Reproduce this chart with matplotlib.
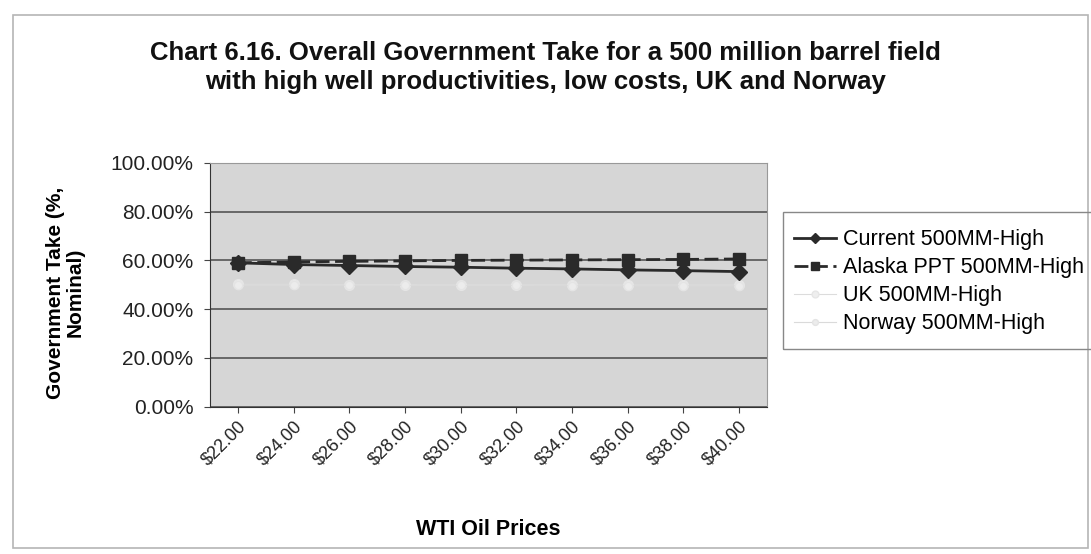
import matplotlib.pyplot as plt
from matplotlib.patches import Rectangle
from matplotlib.ticker import FuncFormatter

plt.rcParams['font.family'] = ['Liberation Sans', 'DejaVu Sans']

# Precios WTI y government take (%) por escenario
precios = ['$22.00', '$24.00', '$26.00', '$28.00', '$30.00',
           '$32.00', '$34.00', '$36.00', '$38.00', '$40.00']
current = [59.0, 58.3, 57.9, 57.5, 57.2, 56.8, 56.5, 56.1, 55.8, 55.4]
alaska_ppt = [59.0, 59.4, 59.6, 59.8, 60.0, 60.1, 60.2, 60.3, 60.4, 60.6]
uk = [50.2, 50.2, 50.1, 50.1, 50.0, 50.0, 50.0, 49.9, 49.9, 49.9]
norway = [49.8, 49.8, 49.8, 49.7, 49.7, 49.7, 49.6, 49.6, 49.6, 49.6]

W, H = 1091, 554
fig = plt.figure(figsize=(W / 100, H / 100), dpi=100)
ax = fig.add_axes([0.1925, 0.2662, 0.5105, 0.4396])
ax.set_facecolor('#d6d6d6')

# Marco exterior del grafico y caja de la leyenda
fig.patches.append(Rectangle((13 / W, 1 - 548 / H), 1075 / W, 533 / H,
                             transform=fig.transFigure, fill=False,
                             edgecolor='#b5b5b5', linewidth=1.2))
fig.patches.append(Rectangle((783 / W, 1 - 349 / H), 320 / W, 137 / H,
                             transform=fig.transFigure, fill=False,
                             edgecolor='#888888', linewidth=1))

x = list(range(len(precios)))
ax.plot(x, uk, color='#dcdcdc', marker='o', markersize=7, markerfacecolor='#eeeeee',
        markeredgecolor='#e6e6e6', linewidth=0.8, label='UK 500MM-High', zorder=2)
ax.plot(x, norway, color='#dadada', marker='o', markersize=6, markerfacecolor='#ececec',
        markeredgecolor='#e4e4e4', linewidth=0.8, label='Norway 500MM-High', zorder=2)
ax.plot(x, current, color='#2a2a2a', marker='D', markersize=8, linewidth=2,
        label='Current 500MM-High', zorder=4)
ax.plot(x, alaska_ppt, color='#2a2a2a', marker='s', markersize=8, linewidth=2,
        linestyle=(0, (5, 2)), label='Alaska PPT 500MM-High', zorder=3)

ax.set_xlim(-0.5, len(precios) - 0.5)
ax.set_ylim(0, 100)
ax.set_yticks([0, 20, 40, 60, 80, 100])
ax.yaxis.set_major_formatter(FuncFormatter(lambda v, p: f'{v:.2f}%'))
ax.grid(axis='y', color='#4a4a4a', linewidth=1.1)
ax.set_axisbelow(True)

ax.set_xticks(x)
ax.set_xticklabels(precios, rotation=45, ha='right', rotation_mode='anchor',
                   fontsize=13, color='#222222')
ax.tick_params(axis='y', labelsize=15, labelcolor='#222222', length=4,
               pad=8, color='#444444')
ax.tick_params(axis='x', length=4, pad=4, color='#444444')

for lado in ['left', 'bottom']:
    ax.spines[lado].set_color('#333333')
for lado in ['top', 'right']:
    ax.spines[lado].set_color('#999999')

ax.set_xlabel('WTI Oil Prices', fontsize=15.5, fontweight='bold', labelpad=36)
fig.text(0.06, 0.472, 'Government Take (%,\nNominal)', rotation=90,
         ha='center', va='center', fontsize=15, fontweight='bold',
         linespacing=1.05)

fig.text(0.5, 0.878, 'Chart 6.16. Overall Government Take for a 500 million barrel field\n'
         'with high well productivities, low costs, UK and Norway',
         ha='center', va='center', fontsize=18.5, fontweight='bold',
         linespacing=1.25, color='#111111')

handles, labels = ax.get_legend_handles_labels()
orden = [2, 3, 0, 1]
leg = fig.legend([handles[i] for i in orden], [labels[i] for i in orden],
                 loc='upper left', bbox_to_anchor=(788 / W, 1 - 223 / H),
                 frameon=False, fontsize=15.5,
                 handlelength=1.95, handletextpad=0.3, labelspacing=0.32,
                 borderpad=0.3, borderaxespad=0, markerscale=0.7)

fig.savefig('out.png', dpi=100)
